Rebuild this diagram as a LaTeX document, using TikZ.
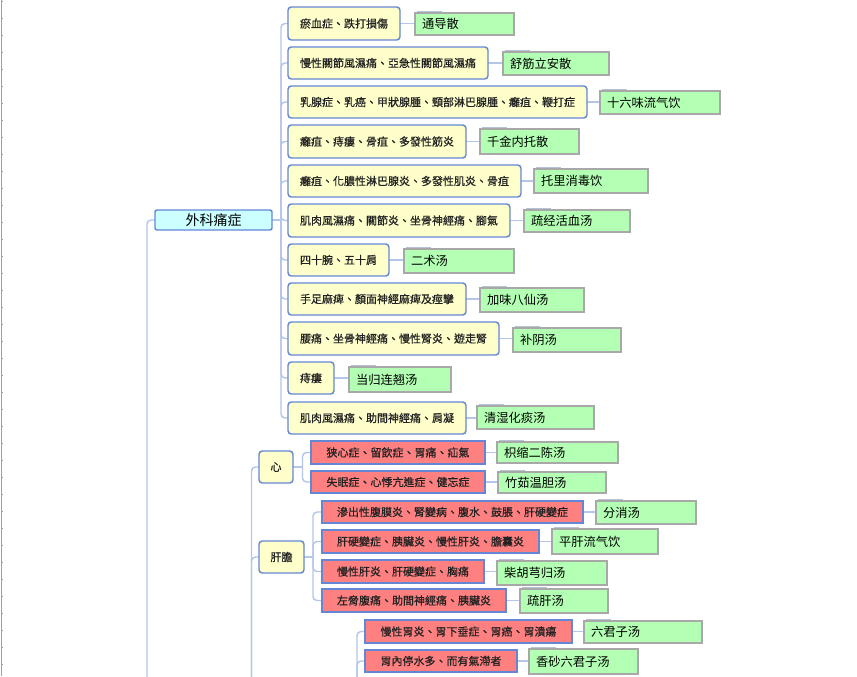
\documentclass[tikz,border=0pt]{standalone}
\usepackage{fontspec}
\newfontfamily\tcfont{Noto Sans CJK TC}
\newfontfamily\tcbfont[FakeBold=0.6]{Noto Sans CJK TC}
\newfontfamily\scfont{Noto Sans CJK SC}
\usetikzlibrary{calc}
\definecolor{bdr}{HTML}{6387D4}
\definecolor{yfill}{HTML}{FFFFCC}
\definecolor{rfill}{HTML}{FF8080}
\definecolor{gfill}{HTML}{B3FFB3}
\definecolor{gbdr}{HTML}{A8A8A8}
\definecolor{cfill}{HTML}{CCFFFF}
\definecolor{lineblue}{HTML}{B4C6EA}
\definecolor{ghostc}{HTML}{B8C2D6}
\definecolor{txt}{HTML}{222222}
\newcommand\tfont{\tcbfont\fontsize{8.25pt}{9pt}\selectfont}
\newcommand\gfont{\scfont\fontsize{9.2pt}{10pt}\selectfont}
\newcommand\rtfont{\tcfont\fontsize{10.5pt}{12pt}\selectfont}
\pgfdeclarelayer{bg}
\pgfsetlayers{bg,main}
\tikzset{
  ybox/.style={draw=bdr, fill=yfill, line width=1.1pt, rounded corners=2.5pt, inner sep=0pt, outer sep=0pt, font=\tfont, text=txt},
  rbox/.style={draw=bdr, fill=rfill, line width=1.1pt, inner sep=0pt, outer sep=0pt, font=\tfont, text=txt},
  rootbox/.style={draw=bdr, fill=cfill, line width=1.1pt, rounded corners=1.5pt, inner sep=0pt, outer sep=0pt, font=\rtfont, text=black},
  gbox/.style={draw=gbdr, fill=gfill, line width=0.9pt, inner xsep=5.25pt, inner ysep=0pt, outer sep=0pt, font=\gfont, align=left, text=black},
  ghost/.style={draw=ghostc, line width=0.75pt},
  conn/.style={draw=lineblue, line width=1.1pt, rounded corners=3pt},
  sconn/.style={draw=lineblue, line width=1.1pt}
}
\newcommand\bx[7]{%
  \node[#1, minimum width={(#5-#3)*0.75pt}, minimum height={(#6-#4)*0.75pt}] (#2) at ({(#3+#5)/2},{(#4+#6)/2}) {#7};}
\newlength\gtwlen
\newcommand\gx[6]{%
  \settowidth\gtwlen{\gfont #6}%
  \pgfmathsetmacro\gtw{(#4-#2-14)*0.75}%
  \node[gbox, text width=\gtw pt, minimum height={(#5-#3)*0.75pt}] (#1) at ({(#2+#4)/2},{(#3+#5)/2}) {#6};
  \draw[ghost] ([shift={(1.5pt,1.2pt)}]#1.north west) -- ([shift={(\gtwlen+20.25pt,1.2pt)}]#1.north west);}
\begin{document}
\begin{tikzpicture}[x=0.75pt, y=-0.75pt]
\useasboundingbox (0,0) rectangle (857,676);
\begin{pgfonlayer}{bg}
\fill[white] (0,0) rectangle (857,676);
\end{pgfonlayer}
% left ruler
\draw[gray!75, line width=0.9pt] (1.2,0) -- (1.2,676);
\foreach \k in {0,...,39} \draw[gray!75, line width=0.75pt] (1.2,{1+17*\k}) -- (3.2,{1+17*\k});
% root
\bx{rootbox}{root}{155}{210}{272}{230}{外科痛症}
% yellow group
\bx{ybox}{y1}{288}{7}{400}{40}{瘀血症、跌打損傷}
\bx{ybox}{y2}{288}{47}{488}{79}{慢性關節風濕痛、亞急性關節風濕痛}
\bx{ybox}{y3}{288}{86}{587}{118}{乳腺症、乳癌、甲狀腺腫、頸部淋巴腺腫、癰疽、鞭打症}
\bx{ybox}{y4}{288}{125}{466}{158}{癰疽、痔瘻、骨疽、多發性筋炎}
\bx{ybox}{y5}{288}{165}{521}{197}{癰疽、化膿性淋巴腺炎、多發性肌炎、骨疽}
\bx{ybox}{y6}{288}{204}{510}{237}{肌肉風濕痛、關節炎、坐骨神經痛、腳氣}
\bx{ybox}{y7}{288}{244}{389}{276}{四十腕、五十肩}
\bx{ybox}{y8}{288}{283}{466}{315}{手足麻痺、顏面神經麻痺及痙攣}
\bx{ybox}{y9}{288}{322}{499}{355}{腰痛、坐骨神經痛、慢性腎炎、遊走腎}
\bx{ybox}{y10}{288}{362}{334}{394}{痔瘻}
\bx{ybox}{y11}{288}{402}{466}{434}{肌肉風濕痛、助間神經痛、肩凝}
% green formulas
\gx{g1}{415}{13}{514}{35}{通导散}
\gx{g2}{503}{52}{609}{75}{舒筋立安散}
\gx{g3}{600}{91}{720}{114}{十六味流气饮}
\gx{g4}{480}{129}{579}{154}{千金内托散}
\gx{g5}{534}{169}{648}{193}{托里消毒饮}
\gx{g6}{524}{210}{630}{232}{疏经活血汤}
\gx{g7}{404}{249}{514}{273}{二术汤}
\gx{g8}{480}{288}{584}{312}{加味八仙汤}
\gx{g9}{513}{328}{621}{352}{补阴汤}
\gx{g10}{349}{367}{451}{392}{当归连翘汤}
\gx{g11}{477}{406}{594}{429}{清湿化痰汤}
% lower groups
\bx{ybox}{xin}{259}{451}{293}{483}{心}
\bx{rbox}{r1}{311}{441}{485}{464}{狭心症、留飲症、胃痛、疝氣}
\bx{rbox}{r2}{311}{471}{485}{493}{失眠症、心悸亢進症、健忘症}
\gx{g12}{497}{442}{618}{463}{枳缩二陈汤}
\gx{g13}{498}{472}{606}{493}{竹茹温胆汤}
\bx{ybox}{gandan}{259}{541}{304}{573}{肝膽}
\bx{rbox}{r3}{322}{501}{583}{523}{滲出性腹膜炎、腎變病、腹水、鼓脹、肝硬變症}
\bx{rbox}{r4}{322}{530}{539}{553}{肝硬變症、胰臟炎、慢性肝炎、膽囊炎}
\bx{rbox}{r5}{322}{560}{484}{583}{慢性肝炎、肝硬變症、胸痛}
\bx{rbox}{r6}{322}{589}{506}{612}{左脅腹痛、助間神經痛、胰臟炎}
\gx{g14}{596}{501}{696}{524}{分消汤}
\gx{g15}{552}{529}{658}{554}{平肝流气饮}
\gx{g16}{497}{561}{607}{585}{柴胡芎归汤}
\gx{g17}{520}{589}{608}{613}{疏肝汤}
\bx{rbox}{r7}{365}{620}{572}{643}{慢性胃炎、胃下垂症、胃癌、胃潰瘍}
\bx{rbox}{r8}{365}{650}{517}{672}{胃內停水多、而有氣滯者}
\gx{g18}{584}{621}{702}{643}{六君子汤}
\gx{g19}{529}{649}{638}{674}{香砂六君子汤}
% connectors
\begin{pgfonlayer}{bg}
\coordinate (tj) at (281,220);
\coordinate (lb) at (147,680);
\coordinate (mb) at (251.5,680);
\coordinate (xj) at (302.5,467);
\coordinate (gj) at (313,557);
\coordinate (wb) at (357,680);
\draw[sconn] (root.east) -- (tj);
\foreach \n in {y1,y2,y3,y4,y5,y6,y7,y8,y9,y10,y11} \draw[conn] (tj) |- (\n.west);
\draw[conn] (root.west) -| (lb);
\draw[conn] (mb) |- (xin.west);
\draw[conn] (mb) |- (gandan.west);
\draw[sconn] (xin.east) -- (xj);
\draw[conn] (xj) |- (r1.west);
\draw[conn] (xj) |- (r2.west);
\draw[sconn] (gandan.east) -- (gj);
\foreach \n in {r3,r4,r5,r6} \draw[conn] (gj) |- (\n.west);
\draw[conn] (wb) |- (r7.west);
\draw[conn] (wb) |- (r8.west);
\foreach \a/\b in {y1/g1,y2/g2,y3/g3,y4/g4,y5/g5,y6/g6,y7/g7,y8/g8,y9/g9,y10/g10,y11/g11,r1/g12,r2/g13,r3/g14,r4/g15,r5/g16,r6/g17,r7/g18,r8/g19}
  \draw[sconn] (\a.east) -- (\a.east -| \b.west);
\end{pgfonlayer}
\end{tikzpicture}
\end{document}
